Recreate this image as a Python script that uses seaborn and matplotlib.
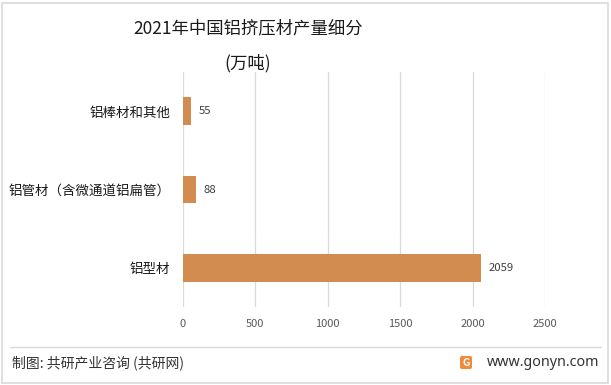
import matplotlib
matplotlib.use("Agg")
import matplotlib.pyplot as plt
import seaborn as sns
import pandas as pd
from matplotlib.patches import Rectangle, FancyBboxPatch
from matplotlib.lines import Line2D

categories = ["铝棒材和其他", "铝管材（含微通道铝扁管）", "铝型材"]
values = [55, 88, 2059]
x_ticks = [0, 500, 1000, 1500, 2000, 2500]
title_line1 = "2021年中国铝挤压材产量细分"
title_line2 = "(万吨)"
footer_left = "制图: 共研产业咨询 (共研网)"
footer_right = "www.gonyn.com"

sns.set_theme(style="white")
plt.rcParams["font.family"] = ["Noto Sans CJK SC", "DejaVu Sans"]

df = pd.DataFrame({"cat": categories, "val": values})

fig = plt.figure(figsize=(6.11, 3.85), dpi=100)
ax = fig.add_axes([0.2995, 0.2026, 0.5925, 0.610])

sns.barplot(data=df, y="cat", x="val", order=categories, color="#D38C4F",
            width=0.355, saturation=1, ax=ax, orient="h", linewidth=0)

ax.set_xlim(0, 2500)
ax.set_xticks(x_ticks)
ax.set_xticklabels([str(t) for t in x_ticks], fontsize=8, color="#595959")
ax.grid(axis="x", color="#d9d9d9", linewidth=0.9)
ax.set_axisbelow(True)
for s in ["top", "right", "bottom", "left"]:
    ax.spines[s].set_visible(False)
ax.tick_params(axis="x", length=0, pad=8.5)
ax.tick_params(axis="y", length=0, pad=9, labelsize=9.7, labelcolor="#1a1a1a")
ax.set_xlabel("")
ax.set_ylabel("")

for i, v in enumerate(values):
    ax.annotate(str(v), xy=(v, i), xytext=(5.5, 0), textcoords="offset points",
                va="center", ha="left", fontsize=8.2, color="#404040")

fig.text(0.406, 0.927, title_line1, ha="center", va="center", fontsize=12.5, color="#1a1a1a")
fig.text(0.406, 0.836, title_line2, ha="center", va="center", fontsize=12.5, color="#1a1a1a")

# footer
fig.add_artist(Line2D([10/611, 601/611], [1-347/385, 1-347/385], color="#d9d9d9", lw=1,
                      transform=fig.transFigure))
fig.text(12/611, 1-363/385, footer_left, ha="left", va="center", fontsize=10, color="#333333")
fig.add_artist(FancyBboxPatch((460/611, 1-369/385), 12/611, 13/385,
                              boxstyle="round,pad=0,rounding_size=0.004",
                              fc="#F08A3C", ec="none", transform=fig.transFigure))
fig.text(466/611, 1-362.5/385, "G", ha="center", va="center", fontsize=7.5, color="white",
         fontweight="bold")
fig.text(487/611, 1-363/385, footer_right, ha="left", va="center", fontsize=10.3,
         color="#333333", family=["Noto Sans", "DejaVu Sans"])

# outer border
fig.add_artist(Rectangle((2/611, 2/385), 606/611, 380/385, fill=False, ec="#d9d9d9", lw=1.2,
                         transform=fig.transFigure))

fig.savefig("out.png", dpi=100)
